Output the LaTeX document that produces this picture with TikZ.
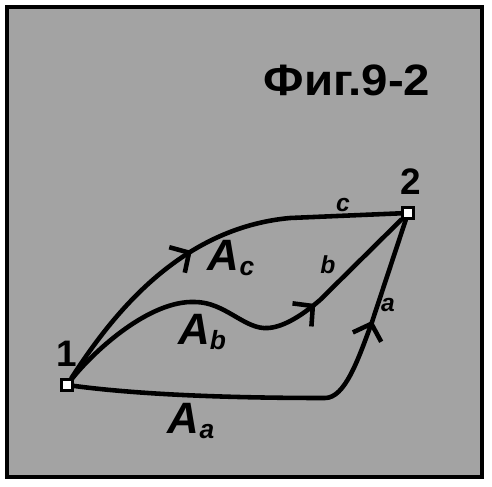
\documentclass[tikz,border=0pt]{standalone}
\usepackage{fontspec}
\setmainfont{Liberation Sans}
\usetikzlibrary{arrows.meta}
\usetikzlibrary{decorations.markings}

\tikzset{
  curve/.style={line width=2.6pt, line cap=round, line join=round},
  barb at/.style={postaction={decorate}, decoration={markings,
      mark=at position #1 with {\arrow{Straight Barb[length=8pt,width=17pt]}}}},
  endpoint/.style={draw, fill=white, line width=1.4pt, inner sep=0pt, minimum size=2.2mm},
  ptlabel/.style={font=\fontsize{21}{24}\selectfont\bfseries},
  arealabel/.style={font=\fontsize{25}{28}\selectfont\bfseries\itshape, inner sep=0pt},
  pathlabel/.style={font=\fontsize{14}{16}\selectfont\bfseries\itshape, inner sep=0pt},
}
\newcommand{\areasub}[2]{#1\raisebox{-2.5pt}{\fontsize{15}{16}\selectfont #2}}

\begin{document}
\begin{tikzpicture}[x=0.02cm, y=-0.02cm]
  \useasboundingbox (0,0) rectangle (492,486);
  \draw[line width=2.3pt, fill=black!36] (7,7) rectangle (482,477);
  \node[font=\fontsize{25}{28}\selectfont\bfseries, xscale=1.08] (title) at (347,80) {Фиг.9-2};

  \node[endpoint] (p1) at (67,385) {};
  \node[endpoint] (p2) at (408,213) {};
  \node[ptlabel] (l1) at (67,354) {1};
  \node[ptlabel] (l2) at (411,182) {2};

  % path c
  \draw[curve, barb at=0.45] (p1) .. controls (112,315) and (180,228) .. (290,218) -- (p2);
  % path b
  \draw[curve, barb at=0.70] (p1) .. controls (95,350) and (150,300) .. (195,302)
        .. controls (225,302) and (245,330) .. (268,328)
        .. controls (285,327) and (305,313) .. (320,300) -- (p2);
  % path a
  \draw[curve, barb at=0.765] (p1) .. controls (150,396) and (250,398) .. (325,398)
        .. controls (345,398) and (358,360) .. (372,322) -- (p2);

  \node[arealabel] (Ac) at (231,258) {\areasub{A}{c}};
  \node[arealabel] (Ab) at (202,332) {\areasub{A}{b}};
  \node[arealabel] (Aa) at (191,421) {\areasub{A}{a}};
  \node[pathlabel] (lc) at (343,205) {c};
  \node[pathlabel] (lb) at (328,265) {b};
  \node[pathlabel] (la) at (388,305) {a};
\end{tikzpicture}
\end{document}
